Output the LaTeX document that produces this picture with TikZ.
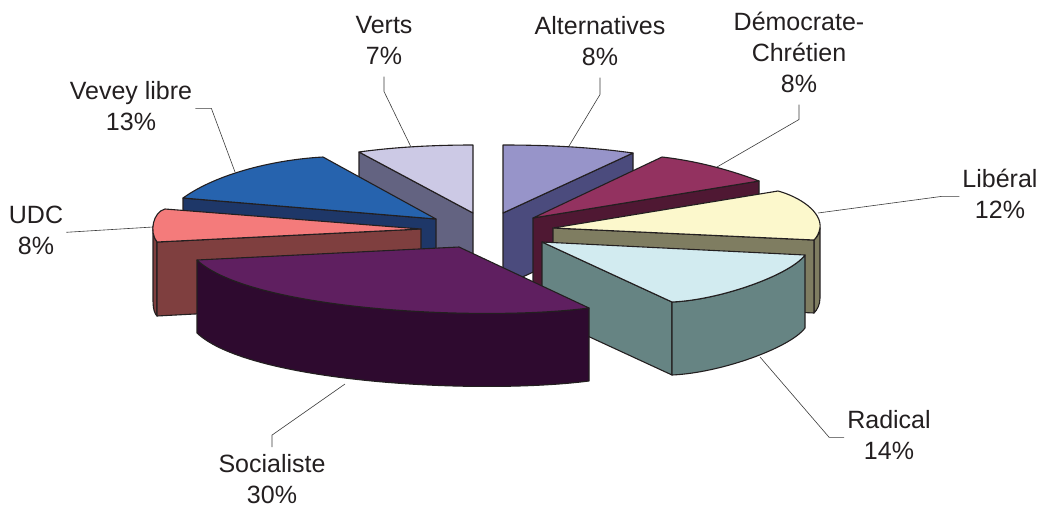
\documentclass[tikz,border=0pt]{standalone}
\usepackage{fontspec}
\setmainfont{Liberation Sans}
\usepackage{tikz}
\usetikzlibrary{calc}
\definecolor{edgecol}{HTML}{231F20}
\definecolor{leadcol}{HTML}{3A3A3A}
\definecolor{vertstop}{HTML}{CCC9E5}
\definecolor{vertsside}{HTML}{636381}
\definecolor{alttop}{HTML}{9794C9}
\definecolor{altside}{HTML}{4B4B7D}
\definecolor{dctop}{HTML}{933260}
\definecolor{dcside}{HTML}{4F1833}
\definecolor{libtop}{HTML}{FCF8CC}
\definecolor{libside}{HTML}{7F7D61}
\definecolor{radtop}{HTML}{D2EBF0}
\definecolor{radside}{HTML}{668483}
\definecolor{soctop}{HTML}{5F1F60}
\definecolor{socside}{HTML}{2E0A2F}
\definecolor{udctop}{HTML}{F47B7B}
\definecolor{udcside}{HTML}{7F3F3F}
\definecolor{veveytop}{HTML}{2663AE}
\definecolor{veveyside}{HTML}{1E3768}
\newcommand{\pielabel}[1]{\begin{tabular}[t]{@{}c@{}}#1\end{tabular}}

\begin{document}
\begin{tikzpicture}[x=1pt,y=-1pt,
  face/.style={draw=edgecol, line width=1.1pt, line join=round},
  leader/.style={draw=leadcol, line width=0.6pt},
  lbl/.style={font=\fontsize{25}{31}\selectfont, text=edgecol, inner sep=3pt, anchor=base}]
\useasboundingbox (0,0) rectangle (1039,509);
% Verts
\draw[face, fill=vertsside] (359,152) -- (473,213) -- (473,286) -- (359,225) -- cycle;
\draw[face, fill=vertstop] (473,213) -- (359,152) .. controls (395,147) and (435,145) .. (473,145) -- cycle;
% Alternatives
\draw[face, fill=altside] (503,213) -- (633,153) -- (633,226) -- (503,286) -- cycle;
\draw[face, fill=alttop] (503,213) -- (503,145) .. controls (547,145) and (590,147) .. (633,153) -- cycle;
% Democrate-Chretien
\draw[face, fill=dcside] (533,218) -- (759,181) -- (759,254) -- (533,291) -- cycle;
\draw[face, fill=dctop] (533,218) -- (662,157) .. controls (697,161) and (730,170) .. (759,181) -- cycle;
% Liberal
\draw[face, fill=libside] (814,240) .. controls (818,236) and (820,232) .. (820,228) -- (820,298) .. controls (820,305) and (817,310) .. (814,313) -- cycle;
\draw[face, fill=libside] (553,228) -- (814,240) -- (814,313) -- (553,301) -- cycle;
\draw[face, fill=libtop] (553,228) -- (778,191) .. controls (800,197) and (822,212) .. (820,228) .. controls (819,233) and (817,237) .. (814,240) -- cycle;
% Radical
\draw[face, fill=radside] (542,242) -- (672,302) -- (672,375) -- (542,315) -- cycle;
\draw[face, fill=radside] (672,302) .. controls (720,300) and (790,275) .. (805,255) -- (805,328) .. controls (790,348) and (720,373) .. (672,375) -- cycle;
\draw[face, fill=radtop] (542,242) -- (805,255) .. controls (790,275) and (720,300) .. (672,302) -- cycle;
% Vevey libre
\draw[face, fill=veveyside] (183,198) -- (436,219) -- (436,292) -- (183,271) -- cycle;
\draw[face, fill=veveytop] (436,219) -- (183,198) .. controls (215,175) and (270,160) .. (323,157) -- cycle;
% UDC
\draw[face, fill=udcside] (153,226) -- (153,300) .. controls (153,310) and (155,314) .. (157,316) -- (157,242) .. controls (154,238) and (153,232) .. (153,226) -- cycle;
\draw[face, fill=udcside] (157,242) -- (421,229) -- (421,302) -- (157,316) -- cycle;
\draw[face, fill=udctop] (421,229) -- (165,209) .. controls (153,212) and (149,232) .. (157,242) -- cycle;
% Socialiste
\draw[face, fill=socside] (197,260) .. controls (250,310) and (480,322) .. (589,308) -- (589,381) .. controls (480,395) and (250,383) .. (197,333) -- cycle;
\draw[face, fill=soctop] (197,260) -- (459,247) -- (589,308) .. controls (480,322) and (250,310) .. (197,260) -- cycle;

% labels
\node[lbl] (verts) at (384,33) {\pielabel{Verts\\7\%}};
\node[lbl] (alt) at (600,34) {\pielabel{Alternatives\\8\%}};
\node[lbl] (dc) at (799,30) {\pielabel{Démocrate-\\Chrétien\\8\%}};
\node[lbl] (lib) at (1000,187) {\pielabel{Libéral\\12\%}};
\node[lbl] (rad) at (889,428) {\pielabel{Radical\\14\%}};
\node[lbl] (soc) at (272,472) {\pielabel{Socialiste\\30\%}};
\node[lbl] (udc) at (36,223) {\pielabel{UDC\\8\%}};
\node[lbl] (vevey) at (131,99) {\pielabel{Vevey libre\\13\%}};

\coordinate (verts-tip) at (411,147);
\coordinate (alt-tip) at (569,146);
\coordinate (dc-tip) at (717,167);
\coordinate (lib-tip) at (818,213);
\coordinate (rad-tip) at (760,357);
\coordinate (soc-tip) at (345,384);
\coordinate (udc-tip) at (153,227);
\coordinate (vevey-tip) at (235,172);

\draw[leader] (verts.south) -- ++(0,15) -- (verts-tip);
\draw[leader] (alt.south) -- ++(0,17) -- (alt-tip);
\draw[leader] (dc.south) -- ++(0,15) -- (dc-tip);
\draw[leader] (lib.west) -- ++(-17,0) -- (lib-tip);
\draw[leader] (rad.west) -- ++(-15,0) -- (rad-tip);
\draw[leader] (soc.north) -- ++(0,-12) -- (soc-tip);
\draw[leader] (udc.east) -- (udc-tip);
\draw[leader] (vevey.east) -- ++(16,0) -- (vevey-tip);
\end{tikzpicture}
\end{document}
